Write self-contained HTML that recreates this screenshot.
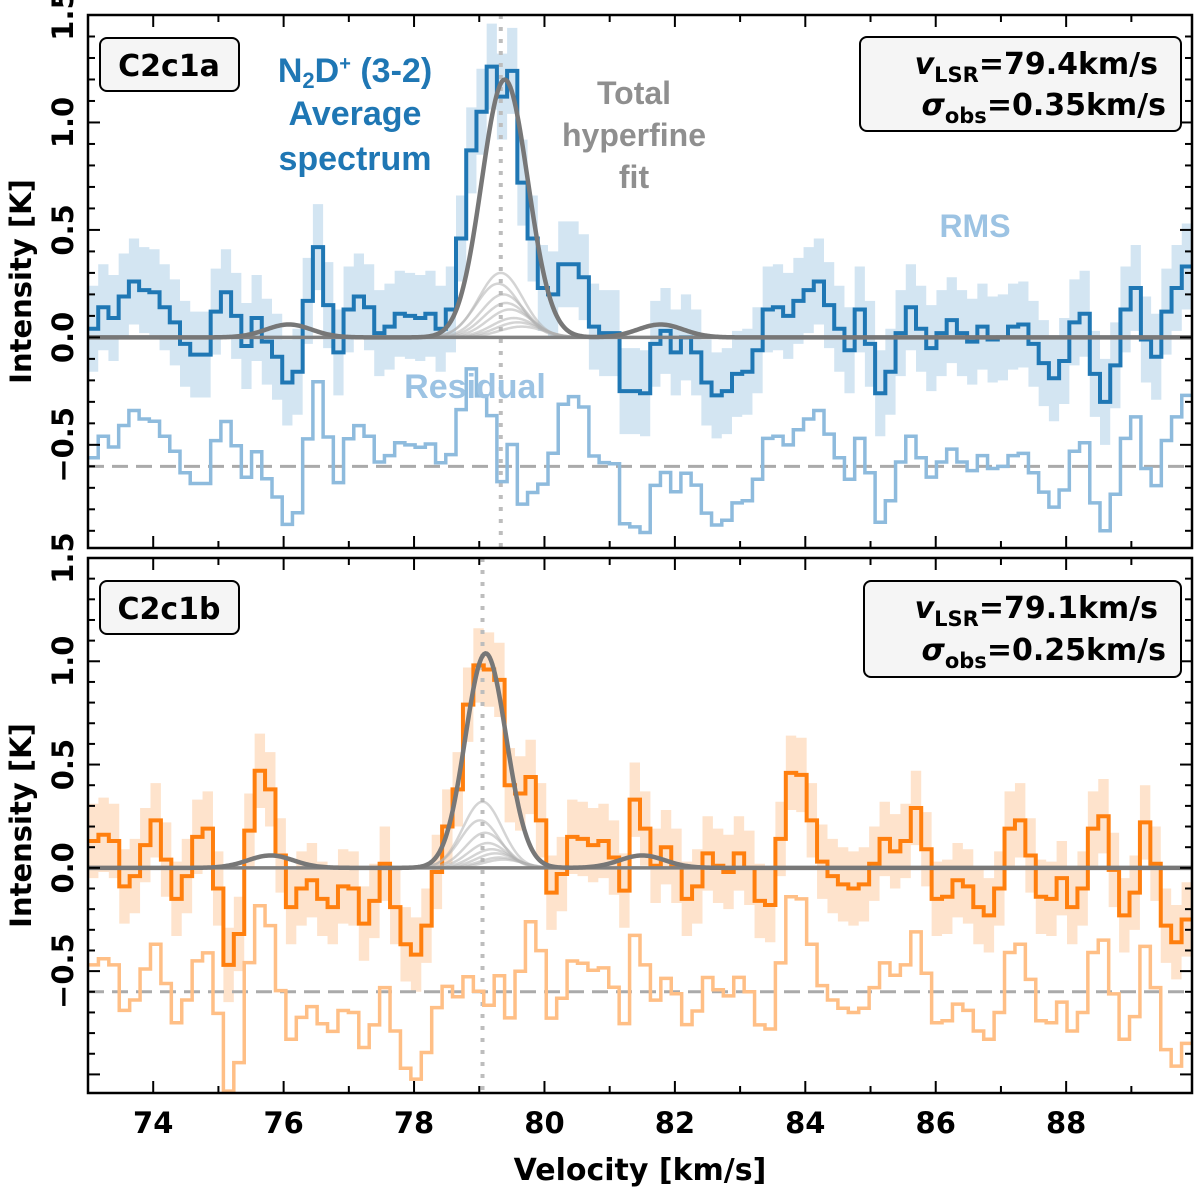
<!DOCTYPE html>
<html><head><meta charset="utf-8"><style>
body{margin:0;background:#fff}
svg text{font-family:"DejaVu Sans","Liberation Sans",sans-serif;font-weight:bold}
</style></head><body>
<svg id="c" width="1200" height="1195" viewBox="0 0 1200 1195" xmlns="http://www.w3.org/2000/svg"></svg>
<script>
// ---- data ----
const xTicks=[74,76,78,80,82,84,86,88];
const yTicks=[-0.5,0.0,0.5,1.0,1.5];
const topVals=[0.04,0.14,0.09,0.19,0.26,0.22,0.21,0.14,0.07,-0.03,-0.08,-0.08,0.12,0.21,0.10,-0.04,0.09,-0.02,-0.09,-0.21,-0.16,0.17,0.42,0.15,-0.07,0.13,0.19,0.14,0.02,0.05,0.11,0.10,0.09,0.11,0.04,0.13,
0.46,0.87,1.05,1.26,1.12,1.24,0.72,0.46,0.23,0.20,0.34,0.34,0.28,0.05,0.02,0.02,-0.25,-0.25,-0.26,
-0.03,0.03,-0.07,0.0,-0.07,-0.21,-0.27,-0.25,-0.17,-0.16,-0.06,0.13,0.14,0.10,0.17,0.22,0.26,0.15,0.04,-0.06,0.13,-0.03,-0.26,-0.16,0.02,0.14,0.04,-0.05,0.02,0.08,0.02,-0.02,0.05,-0.01,0.0,0.05,0.06,-0.03,-0.12,-0.19,-0.11,0.07,0.11,-0.17,-0.30,-0.13,0.13,0.23,-0.01,-0.09,0.12,0.23,0.33];
const botVals=[0.13,0.16,0.13,-0.09,-0.04,0.11,0.23,0.04,-0.15,-0.04,0.15,0.19,-0.10,-0.47,-0.32,0.18,0.47,0.38,0.06,-0.19,-0.10,-0.06,-0.15,-0.19,-0.09,-0.10,-0.27,-0.16,0.02,-0.19,-0.37,-0.42,-0.28,-0.02,0.20,0.38,0.79,0.98,0.96,0.91,0.40,0.36,0.44,0.23,-0.12,-0.03,0.15,0.14,0.11,0.13,0.05,-0.11,0.33,
0.19,0.01,0.10,0.01,-0.15,-0.09,0.07,0.01,-0.02,0.07,0.0,-0.16,-0.18,0.14,0.46,0.45,0.23,0.03,-0.04,-0.08,-0.10,-0.08,0.02,0.14,0.08,0.13,0.29,0.09,-0.15,-0.14,-0.06,-0.09,-0.19,-0.23,-0.10,0.19,0.23,0.06,-0.14,-0.15,-0.05,-0.19,-0.10,0.19,0.25,-0.01,-0.23,-0.12,0.22,0.02,-0.28,-0.36,-0.25];
const topRms=0.2, botRms=0.18;
const topCenter=79.33, botCenter=79.05;
const topCompOff=[0,-0.04,0.04,0.08,0.14,0.2,0.26,0.32];
const topCompAmp=[0.30,0.25,0.20,0.16,0.13,0.09,0.07,0.05];
const botCompOff=[0,-0.04,0.04,0.08,0.14,0.2,0.26,0.32];
const botCompAmp=[0.32,0.23,0.17,0.12,0.09,0.07,0.05,0.04];
const satOff=[-3.25,2.45];
const topSatAmp=[0.06,0.06];
const botSatAmp=[0.06,0.06];
const topSigma=0.34, botSigma=0.3, satSigma=0.35, residOffset=-0.6;

const NS="http://www.w3.org/2000/svg";
const svg=document.getElementById('c');
function mk(tag,attrs,parent){const e=document.createElementNS(NS,tag);for(const k in attrs)e.setAttribute(k,attrs[k]);(parent||svg).appendChild(e);return e;}
const X0=88,X1=1192,XMIN=73,XMAX=89.93;
const xs=v=>X0+(v-XMIN)/(XMAX-XMIN)*(X1-X0);
const g=(v,c,s)=>Math.exp(-0.5*((v-c)/s)**2);

function panel(o){
  const {top,bot,ymin,ymax,vals,rms,center,compOff,compAmp,satAmp,sig,col,band,resCol,name}=o;
  const ys=y=>top+(ymax-y)/(ymax-ymin)*(bot-top);
  const n=vals.length, dv=(XMAX-XMIN)/n;
  const fit=v=>{let s=0;compOff.forEach((d,i)=>s+=compAmp[i]*g(v,center+d,sig));satOff.forEach((d,i)=>s+=satAmp[i]*g(v,center+d,satSigma));return s;};
  const grp=mk('g',{});
  
  
  const cp=mk('clipPath',{id:name+'clip'},grp);mk('rect',{x:X0,y:top,width:X1-X0,height:bot-top},cp);
  const inner=mk('g',{'clip-path':`url(#${name}clip)`},grp);
  let up='',lo='';
  for(let i=0;i<n;i++){const a=xs(XMIN+i*dv),b=xs(XMIN+(i+1)*dv);up+=`${i?'L':'M'}${a},${ys(vals[i]+rms)}L${b},${ys(vals[i]+rms)}`;}
  for(let i=n-1;i>=0;i--){const a=xs(XMIN+i*dv),b=xs(XMIN+(i+1)*dv);lo+=`L${b},${ys(vals[i]-rms)}L${a},${ys(vals[i]-rms)}`;}
  const bd=mk('path',{d:up+lo+'Z',fill:band},inner);
  
  
  const vl=mk('line',{x1:xs(center),x2:xs(center),y1:top,y2:bot,stroke:'#bdbdbd','stroke-width':4,'stroke-dasharray':'4 8'},inner);
  
  
  const dl=mk('line',{x1:X0,x2:X1,y1:ys(residOffset),y2:ys(residOffset),stroke:'#aaaaaa','stroke-width':3,'stroke-dasharray':'16 8'},inner);
  
  
  let rd='';
  for(let i=0;i<n;i++){const a=xs(XMIN+i*dv),b=xs(XMIN+(i+1)*dv);const vc=XMIN+(i+0.5)*dv;const r=vals[i]-fit(vc)+residOffset;rd+=`${i?'L':'M'}${a},${ys(r)}L${b},${ys(r)}`;}
  const rp=mk('path',{d:rd,fill:'none',stroke:resCol,'stroke-width':3.5},inner);
  
  
  let sd='';
  for(let i=0;i<n;i++){const a=xs(XMIN+i*dv),b=xs(XMIN+(i+1)*dv);sd+=`${i?'L':'M'}${a},${ys(vals[i])}L${b},${ys(vals[i])}`;}
  const sp=mk('path',{d:sd,fill:'none',stroke:col,'stroke-width':4},inner);
  
  
  compOff.forEach((d,i)=>{let p='';for(let k=0;k<=120;k++){const v=center+d-1.2+k*0.02;p+=`${k?'L':'M'}${xs(v)},${ys(compAmp[i]*g(v,center+d,sig))}`;}
    const cl=mk('path',{d:p,fill:'none',stroke:'#b0b0b0','stroke-opacity':0.55,'stroke-width':2.5},inner);
    
    });
  const zl=mk('line',{x1:X0,x2:X1,y1:ys(0),y2:ys(0),stroke:'#808080','stroke-width':3.5},inner);
  
  
  let fp='';for(let k=0;k<=800;k++){const v=XMIN+k*(XMAX-XMIN)/800;fp+=`${k?'L':'M'}${xs(v)},${ys(fit(v))}`;}
  const fl=mk('path',{d:fp,fill:'none',stroke:'#777777','stroke-width':4.5},inner);
  
  
  const fr=mk('rect',{x:X0,y:top,width:X1-X0,height:bot-top,fill:'none',stroke:'#000','stroke-width':2.5},grp);
  
  
  for(let v=73;v<=89;v++){const x=xs(v),L=(v%2===0)?12:7;
    mk('line',{x1:x,x2:x,y1:bot,y2:bot-L,stroke:'#000','stroke-width':2},grp);
    mk('line',{x1:x,x2:x,y1:top,y2:top+L,stroke:'#000','stroke-width':2},grp);}
  for(let k=Math.ceil(ymin*10);k<=15;k++){const y=ys(k/10),L=(k%5===0)?12:7;
    mk('line',{x1:X0,x2:X0+L,y1:y,y2:y,stroke:'#000','stroke-width':2},grp);
    mk('line',{x1:X1,x2:X1-L,y1:y,y2:y,stroke:'#000','stroke-width':2},grp);}
  yTicks.forEach(t=>{const y=ys(t);const tx=mk('text',{x:0,y:0,transform:`translate(73,${y}) rotate(-90)`,'text-anchor':'middle','font-size':29},grp);
    tx.textContent=(t<0?'\u2212':'')+Math.abs(t).toFixed(1);
    
    });
  const yl=mk('text',{x:0,y:0,transform:`translate(31,${(top+bot)/2}) rotate(-90)`,'text-anchor':'middle','font-size':29},grp);
  yl.textContent='Intensity [K]';
  
  
  return ys;
}
panel({top:15,bot:548,ymin:-0.98,ymax:1.5,vals:topVals,rms:topRms,center:topCenter,compOff:topCompOff,compAmp:topCompAmp,satAmp:topSatAmp,sig:topSigma,col:'#1f77b4',band:'#d3e5f2',resCol:'#8ebbdd',name:'c2c1a'});
panel({top:558,bot:1093,ymin:-1.09,ymax:1.5,vals:botVals,rms:botRms,center:botCenter,compOff:botCompOff,compAmp:botCompAmp,satAmp:botSatAmp,sig:botSigma,col:'#ff7f0e',band:'#fee3cc',resCol:'#ffbf86',name:'c2c1b'});
xTicks.forEach(v=>{const t=mk('text',{x:xs(v),y:1133,'text-anchor':'middle','font-size':29});t.textContent=v;
  
  });
</script>
<svg width="1200" height="1195" style="position:absolute;left:0;top:0" xmlns="http://www.w3.org/2000/svg">
<text x="640" y="1180" text-anchor="middle" font-size="30">Velocity [km/s]</text>
<g><rect x="100" y="38" width="139" height="53" rx="7" fill="#f5f5f5" stroke="#000" stroke-width="2"/><text x="169" y="76" text-anchor="middle" font-size="30">C2c1a</text></g>
<g><rect x="100" y="581" width="139" height="53" rx="7" fill="#f5f5f5" stroke="#000" stroke-width="2"/><text x="169" y="619" text-anchor="middle" font-size="30">C2c1b</text></g>
<g><rect x="860" y="37" width="321" height="94" rx="7" fill="#f5f5f5" stroke="#000" stroke-width="2"/>
<text x="1158" y="74" text-anchor="end" font-size="30"><tspan font-style="italic">v</tspan><tspan font-size="21" dy="8">LSR</tspan><tspan dy="-8">=79.4km/s</tspan></text>
<text x="1166" y="115" text-anchor="end" font-size="30"><tspan font-style="italic">σ</tspan><tspan font-size="21" dy="8">obs</tspan><tspan dy="-8">=0.35km/s</tspan></text></g>
<g><rect x="864" y="581" width="317" height="96" rx="7" fill="#f5f5f5" stroke="#000" stroke-width="2"/>
<text x="1158" y="618" text-anchor="end" font-size="30"><tspan font-style="italic">v</tspan><tspan font-size="21" dy="8">LSR</tspan><tspan dy="-8">=79.1km/s</tspan></text>
<text x="1166" y="660" text-anchor="end" font-size="30"><tspan font-style="italic">σ</tspan><tspan font-size="21" dy="8">obs</tspan><tspan dy="-8">=0.25km/s</tspan></text></g>
<g fill="#1f77b4" font-size="34" text-anchor="middle">
<text x="355" y="82" style="font-family:'Liberation Sans',sans-serif">N<tspan font-size="22" dy="6">2</tspan><tspan dy="-6">D</tspan><tspan font-size="20" dy="-12">+</tspan><tspan dy="12"> (3-2)</tspan></text>
<text x="355" y="125" style="font-family:'Liberation Sans',sans-serif">Average</text>
<text x="355" y="170" style="font-family:'Liberation Sans',sans-serif">spectrum</text></g>
<g fill="#8f8f8f" font-size="32" text-anchor="middle">
<text x="634" y="104" style="font-family:'Liberation Sans',sans-serif">Total</text>
<text x="634" y="146" style="font-family:'Liberation Sans',sans-serif">hyperfine</text>
<text x="634" y="188" style="font-family:'Liberation Sans',sans-serif">fit</text></g>
<text x="975" y="237" text-anchor="middle" font-size="32" fill="#9cc3e3" style="font-family:'Liberation Sans',sans-serif">RMS</text>
<text x="475" y="398" text-anchor="middle" font-size="34" fill="#9cc3e3" style="font-family:'Liberation Sans',sans-serif">Residual</text>
</svg>
</body></html>
